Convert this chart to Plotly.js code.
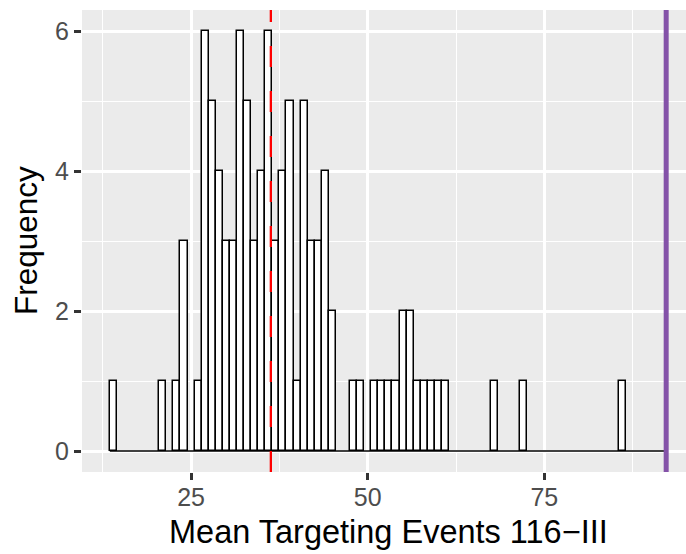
<!DOCTYPE html>
<html>
<head>
<meta charset="utf-8">
<script src="https://cdn.plot.ly/plotly-3.0.1.min.js"></script>
<style>
  html, body { margin: 0; padding: 0; overflow: hidden; background: #ffffff; }
  #chart { width: 694px; height: 554px; }
</style>
</head>
<body>
<div id="chart"></div>
<script>
// Histogram counts (bin width 1, bins centred on whole numbers)
const binCenters = [14, 21, 23, 24, 26, 27, 28, 29, 30, 31, 32, 33, 34, 35, 36, 37, 38, 39, 40,
                    41, 42, 43, 44, 45, 48, 49, 51, 52, 53, 54, 55, 56, 57, 58, 59, 60, 61,
                    68, 72, 86];
const binCounts  = [1, 1, 1, 3, 1, 6, 5, 4, 3, 3, 6, 5, 3, 4, 6, 3, 4, 5, 1,
                    5, 3, 3, 4, 2, 1, 1, 1, 1, 1, 1, 2, 2, 1, 1, 1, 1, 1,
                    1, 1, 1];
const binWidth = 1;
// first and last bin of the histogram (empty bins are drawn as a flat baseline)
const firstBin = 14;
const lastBin = 92;

const medianValue = 36.29;    // dashed red reference
const observedValue = 92.24;  // solid purple reference

const xTicks = [25, 50, 75];
const xMinor = [12.5, 37.5, 62.5, 87.5];
const yTicks = [0, 2, 4, 6];
const yMinor = [1, 3, 5];

const xTitle = 'Mean Targeting Events 116\u2212III';
const yTitle = 'Frequency';

const FONT = '"Liberation Sans", Arimo, Helvetica, Arial, sans-serif';

const bars = {
  type: 'bar',
  x: binCenters,
  y: binCounts,
  width: binWidth,
  marker: { color: '#ffffff', line: { color: '#000000', width: 1.5 } },
  hoverinfo: 'x+y',
  showlegend: false
};

const baseline = {
  type: 'scatter',
  mode: 'lines',
  x: [firstBin - binWidth / 2, lastBin + binWidth / 2],
  y: [0, 0],
  line: { color: '#000000', width: 1.5 },
  hoverinfo: 'skip',
  showlegend: false
};

// x range follows the data extent (incl. reference lines) plus 5% padding
const xLo = firstBin - binWidth / 2;
const xHi = observedValue;
const pad = (xHi - xLo) * 0.05;
const yMax = Math.max(...binCounts);

const layout = {
  width: 694,
  height: 554,
  margin: { l: 82, r: 0, t: 10, b: 82 },
  paper_bgcolor: '#ffffff',
  plot_bgcolor: '#EBEBEB',
  font: { family: FONT, color: '#000000' },
  bargap: 0,
  xaxis: {
    range: [xLo - pad, xHi + pad],
    tickmode: 'array',
    tickvals: xTicks,
    ticktext: xTicks.map(String),
    ticks: 'outside',
    ticklen: 7,
    tickwidth: 2.5,
    tickcolor: '#333333',
    ticklabelstandoff: -4,
    tickfont: { family: FONT, size: 25, color: '#4D4D4D' },
    showgrid: true,
    gridcolor: '#ffffff',
    gridwidth: 2.6,
    minor: { tickvals: xMinor, showgrid: true, gridcolor: '#ffffff', gridwidth: 1.3, ticks: '' },
    zeroline: false,
    showline: false,
    fixedrange: true
  },
  yaxis: {
    range: [-0.05 * yMax, yMax * 1.05],
    tickmode: 'array',
    tickvals: yTicks,
    ticktext: yTicks.map(String),
    ticks: 'outside',
    ticklen: 7,
    tickwidth: 2.5,
    tickcolor: '#333333',
    tickfont: { family: FONT, size: 25, color: '#4D4D4D' },
    showgrid: true,
    gridcolor: '#ffffff',
    gridwidth: 2.6,
    minor: { tickvals: yMinor, showgrid: true, gridcolor: '#ffffff', gridwidth: 1.3, ticks: '' },
    zeroline: false,
    showline: false,
    fixedrange: true
  },
  shapes: [
    {
      type: 'line', xref: 'x', yref: 'paper',
      x0: medianValue, x1: medianValue, y0: 0, y1: 1,
      line: { color: '#FF0000', width: 2.3, dash: '21px,24px' },
      layer: 'above'
    },
    {
      type: 'line', xref: 'x', yref: 'paper',
      x0: observedValue, x1: observedValue, y0: 0, y1: 1,
      line: { color: '#8452A8', width: 5 },
      layer: 'above'
    }
  ],
  annotations: [
    {
      text: xTitle, xref: 'paper', yref: 'paper', x: 0.5, y: 0,
      xanchor: 'center', yanchor: 'middle', yshift: -60, showarrow: false,
      font: { family: FONT, size: 32.5, color: '#000000' }
    },
    {
      text: yTitle, xref: 'paper', yref: 'paper', x: 0, y: 0.5,
      xanchor: 'center', yanchor: 'middle', xshift: -56, textangle: -90, showarrow: false,
      font: { family: FONT, size: 31.5, color: '#000000' }
    }
  ]
};

Plotly.newPlot('chart', [bars, baseline], layout, { displayModeBar: false });
</script>
</body>
</html>
